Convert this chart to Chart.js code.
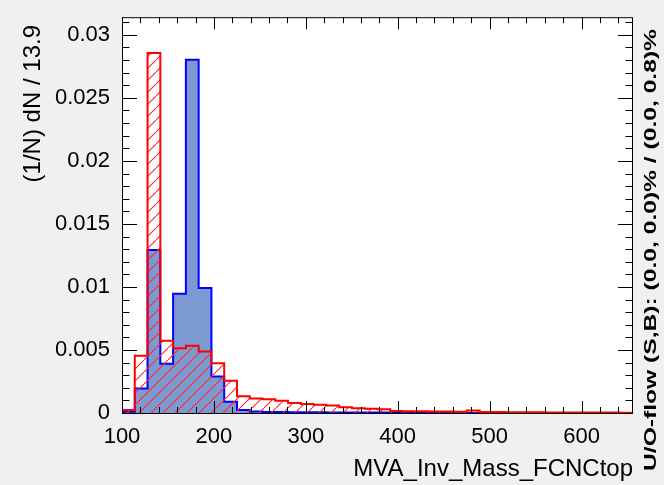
<!DOCTYPE html>
<html>
<head>
<meta charset="utf-8">
<script src="https://cdn.jsdelivr.net/npm/chart.js@4.4.1/dist/chart.umd.min.js"></script>
<style>
  html, body { margin: 0; padding: 0; background: #f0f0f0; }
  #wrap { width: 664px; height: 485px; }
</style>
</head>
<body>
<div id="wrap"><canvas id="mva-chart"></canvas></div>
<script>
// histogram binning
const X_MIN = 100;
const BIN_WIDTH = 13.9;
const N_BINS = 40;
const X_MAX = X_MIN + N_BINS * BIN_WIDTH;

// normalised entries per bin, (1/N) dN
const signal = [
  0.0001, 0.00194, 0.01293, 0.0039, 0.00947, 0.02802, 0.00991, 0.0029, 0.00089, 0.00024,
  0.00012, 0.00008, 0.00007, 0.00006, 0.00005, 0.00005, 0.00004, 0.00004, 0.00004, 0.00003,
  0.00003, 0.00003, 0.00002, 0.00002, 0.00002, 0.00002, 0.00001, 0, 0, 0,
  0, 0, 0, 0, 0, 0, 0, 0, 0, 0
];
const background = [
  0.00024, 0.00455, 0.02855, 0.00573, 0.00513, 0.00534, 0.00487, 0.00395, 0.00255, 0.00133,
  0.00115, 0.0011, 0.00097, 0.0008, 0.00072, 0.00066, 0.0006, 0.00045, 0.00037, 0.00033,
  0.00029, 0.00016, 0.00014, 0.00013, 0.00012, 0.00011, 0.0001, 0.0002, 0.00008, 0.00007,
  0.00006, 0.00005, 0.00005, 0.00004, 0.00004, 0.00004, 0.00003, 0.00003, 0.00003, 0.00002
];

const xTickValues = [100, 200, 300, 400, 500, 600];
const yTickValues = [0, 0.005, 0.01, 0.015, 0.02, 0.025, 0.03];
const yTickLabels = ["0", "0.005", "0.01", "0.015", "0.02", "0.025", "0.03"];
const Y_MAX = 0.0314;

const xTitle = "MVA_Inv_Mass_FCNCtop";
const yTitle = "(1/N) dN / 13.9";
const flowText = "U/O-flow (S,B): (0.0, 0.0)% / (0.0, 0.8)%";

const FONT = "'Liberation Sans', Arial, Helvetica, sans-serif";

// left bin edges plus the closing edge, drawn as a step line
function stepPoints(values) {
  const pts = values.map((v, i) => ({ x: X_MIN + i * BIN_WIDTH, y: v }));
  pts.push({ x: X_MAX, y: values[values.length - 1] });
  return pts;
}

function makeHatch() {
  const size = 12;
  const c = document.createElement("canvas");
  c.width = size;
  c.height = size;
  const g = c.getContext("2d");
  g.strokeStyle = "#ff2a2a";
  g.lineWidth = 1.1;
  g.beginPath();
  g.moveTo(-1, size + 1);
  g.lineTo(size + 1, -1);
  g.stroke();
  return g.createPattern(c, "repeat");
}

const plotBackground = {
  id: "plotBackground",
  beforeDraw(chart) {
    const { ctx, chartArea: a } = chart;
    ctx.save();
    ctx.fillStyle = "#ffffff";
    ctx.fillRect(a.left, a.top, a.width, a.height);
    ctx.restore();
  }
};

// frame, inward ticks and the extra texts
const frameDecor = {
  id: "frameDecor",
  afterDraw(chart) {
    const { ctx, chartArea: a, scales: { x, y } } = chart;
    ctx.save();
    ctx.strokeStyle = "#000";
    ctx.lineWidth = 1;
    ctx.beginPath();
    for (let v = X_MIN; v <= X_MAX; v += 20) {
      const px = Math.round(x.getPixelForValue(v)) + 0.5;
      const len = v % 100 === 0 ? 12 : 6;
      ctx.moveTo(px, a.bottom);
      ctx.lineTo(px, a.bottom - len);
      ctx.moveTo(px, a.top);
      ctx.lineTo(px, a.top + len);
    }
    for (let i = 0; i * 0.001 <= Y_MAX; i++) {
      const py = Math.round(y.getPixelForValue(i * 0.001)) + 0.5;
      const len = i % 5 === 0 ? 15 : 7.5;
      ctx.moveTo(a.left, py);
      ctx.lineTo(a.left + len, py);
      ctx.moveTo(a.right, py);
      ctx.lineTo(a.right - len, py);
    }
    ctx.stroke();
    ctx.strokeRect(a.left + 0.5, a.top + 0.5, a.width - 1, a.height);

    ctx.fillStyle = "#000";
    // y axis title
    ctx.save();
    ctx.translate(33, 25);
    ctx.rotate(-Math.PI / 2);
    ctx.font = "24px " + FONT;
    ctx.textAlign = "right";
    ctx.textBaseline = "middle";
    ctx.fillText(yTitle, 0, 0);
    ctx.restore();

    // under/overflow note on the right side
    ctx.save();
    ctx.translate(652, 471);
    ctx.rotate(-Math.PI / 2);
    ctx.font = "bold 16px " + FONT;
    const w = ctx.measureText(flowText).width;
    ctx.scale(442 / w, 1);
    ctx.textAlign = "left";
    ctx.textBaseline = "middle";
    ctx.fillText(flowText, 0, 0);
    ctx.restore();

    ctx.restore();
  }
};

new Chart(document.getElementById("mva-chart"), {
  type: "line",
  data: {
    datasets: [
      {
        label: "Signal",
        data: stepPoints(signal),
        stepped: true,
        fill: "origin",
        backgroundColor: "#7d99d1",
        borderColor: "#0000ff",
        borderWidth: 2,
        pointRadius: 0,
        order: 2
      },
      {
        label: "Background",
        data: stepPoints(background),
        stepped: true,
        fill: "origin",
        backgroundColor: makeHatch(),
        borderColor: "#ff0000",
        borderWidth: 2,
        pointRadius: 0,
        order: 1
      }
    ]
  },
  options: {
    responsive: true,
    maintainAspectRatio: false,
    animation: false,
    layout: { padding: { top: 13, right: 31, left: 0, bottom: 0 } },
    plugins: {
      legend: { display: false },
      tooltip: { enabled: false }
    },
    scales: {
      x: {
        type: "linear",
        min: X_MIN,
        max: X_MAX,
        grid: { display: false },
        border: { display: false },
        afterBuildTicks: (scale) => {
          scale.ticks = xTickValues.map((v) => ({ value: v }));
        },
        afterFit: (scale) => {
          scale.height = 72;
        },
        ticks: {
          color: "#000",
          padding: 3,
          maxRotation: 0,
          font: { family: FONT, size: 22 },
          callback: (v) => String(v)
        },
        title: {
          display: true,
          text: xTitle,
          align: "end",
          color: "#000",
          font: { family: FONT, size: 24 },
          padding: { top: 0, bottom: 1 }
        }
      },
      y: {
        min: 0,
        max: Y_MAX,
        grid: { display: false },
        border: { display: false },
        afterBuildTicks: (scale) => {
          scale.ticks = yTickValues.map((v) => ({ value: v }));
        },
        afterFit: (scale) => {
          scale.width = 122;
        },
        ticks: {
          color: "#000",
          padding: 4,
          font: { family: FONT, size: 22 },
          callback: (v, i) => yTickLabels[i]
        }
      }
    }
  },
  plugins: [plotBackground, frameDecor]
});
</script>
</body>
</html>
